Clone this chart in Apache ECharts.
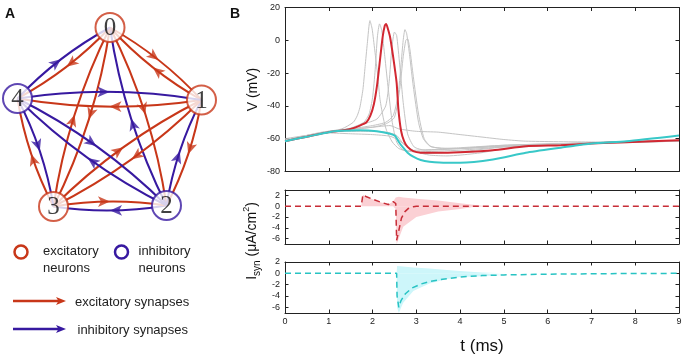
<!DOCTYPE html>
<html><head><meta charset="utf-8">
<script src="https://cdn.jsdelivr.net/npm/echarts@6/dist/echarts.min.js"></script>
<style>html,body{margin:0;padding:0;background:#fff}#c{width:686px;height:356px}</style>
</head><body><div id="c"></div>
<script>
// ---------- Panel A: network ----------
const nodeNames = ['0', '1', '2', '3', '4'];
const nodeX = [110, 201.5, 166.5, 53.5, 17.5];
const nodeY = [27.5, 100, 205.5, 206.5, 98.5];
const nodeType = ['E', 'E', 'I', 'E', 'I'];
const edgePairs = [[0,1],[0,2],[0,3],[0,4],[1,2],[1,3],[1,4],[2,3],[2,4],[3,4]];

// ---------- Panel B: membrane potential V (mV) ----------
const tickV = [-80,-60,-40,-20,0,20];
const tickI = [-6,-4,-2,0,2];

const redT = [0,0.5,1,1.3,1.5,1.71,1.86,1.95,2.03,2.1,2.17,2.23,2.28,2.31,2.34,2.4,2.47,2.55,2.59,2.65,2.72,2.8,2.93,3.1,3.5,4,4.75,5.5,6.3,7,7.8,9];
const redV = [-61.5,-58.8,-56,-55,-54,-52,-50,-46,-39,-28,-12,2,9,10,8,2,-10,-26,-42,-55,-61.5,-65,-67.6,-68.5,-68.6,-68.2,-67,-64.6,-64,-63,-62.1,-61];

const cyanT = [0,0.5,1,1.3,1.7,2.1,2.4,2.52,2.6,2.7,2.8,2.93,3.1,3.3,3.7,4,4.75,5.5,6.3,7,7.8,9];
const cyanV = [-61.5,-58.8,-56,-55.2,-54.8,-55.4,-57,-58.3,-62,-65.5,-68.5,-71,-73,-74,-74.7,-74.7,-72.7,-68.6,-65.5,-62.9,-61.5,-58];

const gray1T = [0,1,1.3,1.56,1.65,1.71,1.78,1.83,1.88,1.94,1.99,2.05,2.12,2.17,2.25,2.32,2.45,2.6,2.8,3,4,5,6,7,9];
const gray1V = [-60.5,-55.5,-54,-50,-46,-41,-30,-16,-2,12,7,-6,-22,-36,-48,-55,-62,-66,-67.5,-67,-66,-64.5,-63.5,-62.5,-61.5];
const gray2T = [0,1,1.5,1.8,1.92,2.0,2.06,2.11,2.16,2.21,2.28,2.36,2.45,2.55,2.7,3,4,5,7,9];
const gray2V = [-61.5,-56,-53.5,-50,-45,-35,-18,2,10,6,-10,-30,-50,-62,-67,-68,-67,-65,-63,-61.5];
const gray3T = [0,1,1.5,1.8,2.1,2.3,2.38,2.44,2.5,2.55,2.62,2.7,2.8,2.95,3.2,4,5,7,9];
const gray3V = [-61.5,-56,-54,-51,-48,-40,-25,-5,5,3,-15,-38,-57,-65,-67,-66,-64,-62.5,-61];
const gray4T = [0,1,1.5,2,2.3,2.47,2.58,2.65,2.7,2.74,2.78,2.85,2.93,3.05,3.16,3.31,3.6,4,5,7,9];
const gray4V = [-61.5,-56,-54,-52,-50,-46,-34,-15,0,6.5,4,-10,-28,-50,-60,-64.5,-66,-65.5,-64,-62.5,-61];
const gray5T = [0,1,1.5,2,2.3,2.5,2.62,2.7,2.76,2.8,2.85,2.93,3.05,3.18,3.35,4,5,7,9];
const gray5V = [-61.5,-56,-54.5,-53,-51,-47,-30,-10,0,1,-5,-22,-45,-60,-65,-66,-64.5,-62.5,-61];
const gray6T = [0,1,2,2.4,2.6,3,3.5,4,4.5,5,5.5,7,9];
const gray6V = [-61.5,-55.5,-53,-52,-54,-55.5,-56,-57.5,-59,-60.5,-61.5,-62,-61.5];
const gray7T = [0,1,1.5,2,2.4,2.6,2.8,3,3.3,3.7,4,4.5,5,6,7,9];
const gray7V = [-60,-56.5,-57,-57.5,-58.5,-61,-65,-68,-70,-70.5,-70,-68.5,-66,-64,-62.5,-61];
const gray8T = [0,1,1.8,2.3,2.55,2.7,2.9,3.2,4,5,6,9];
const gray8V = [-61.5,-55.5,-55.5,-56,-58,-63,-67,-69,-68,-65,-63.5,-61.5];

// ---------- Synaptic currents (uA/cm^2) ----------
const excT = [0,1.74,1.78,1.85,2,2.2,2.36,2.47,2.53,2.55,2.6,2.66,2.74,2.82,2.93,3,9];
const excI = [0,0,2.1,1.8,1.3,0.7,0.3,0.85,0.5,-6.3,-4.5,-2.2,-1.0,-0.4,-0.1,0,0];
const excBandT = [1.74,1.78,1.85,2,2.2,2.36,2.47,2.53,2.55,2.6,2.7,3,3.5,4,4.3,4.6];
const excBandLo = [0,0,0,0,0,0,0,-0.5,-7,-6,-3.8,-2,-1,-0.5,-0.15,0];
const excBandHi = [0,2.1,1.8,1.3,0.7,0.3,0.85,1.6,1.8,1.75,1.6,1.4,1.05,0.55,0.25,0];

const inhT = [0,2.55,2.56,2.6,2.65,2.75,2.9,3.1,3.3,3.6,4,4.5,5,6,7,8,9];
const inhI = [0,0,-4,-6,-4.8,-3.6,-2.6,-1.9,-1.45,-1.05,-0.65,-0.4,-0.28,-0.15,-0.08,-0.03,0];
const inhBandT = [2.55,2.56,2.6,2.7,2.93,3.3,3.7,4,4.5,5];
const inhBandLo = [0,-6,-7,-5.2,-3.1,-1.8,-1.0,-0.65,-0.5,-0.3];
const inhBandHi = [0,1.3,1.3,1.2,1.05,0.85,0.6,0.4,0.15,0];

// ---------- styles ----------
const RED_N = 'rgb(200,55,25)';
const BLUE_N = 'rgb(55,25,160)';
const LINE_RED = 'rgb(210,40,50)';
const LINE_CYAN = 'rgb(56,200,200)';
const GRAY = '#c4c4c4';
const FONT = 'Liberation Sans, Arial, sans-serif';

const pairs = (t, v) => t.map((x, i) => [x, v[i]]);
const CURV = 0.08;

// edges
const edgeData = [], arrowData = [];
edgePairs.forEach(([a, b]) => {
  [[a, b], [b, a]].forEach(([s, d]) => {
    const col = nodeType[s] === 'E' ? RED_N : BLUE_N;
    const x1 = nodeX[s], y1 = nodeY[s], x2 = nodeX[d], y2 = nodeY[d];
    edgeData.push({coords: [[x1, y1], [x2, y2]], lineStyle: {color: col}});
    const dx = x2 - x1, dy = y2 - y1;
    const mx = (x1 + x2) / 2 + 0.5 * CURV * dy;
    const my = (y1 + y2) / 2 - 0.5 * CURV * dx;
    const rot = Math.atan2(-dx, -dy) * 180 / Math.PI;
    arrowData.push({value: [mx, my], symbolRotate: rot, itemStyle: {color: col}});
  });
});
const nodeData = nodeNames.map((n, i) => ({
  name: n, value: [nodeX[i], nodeY[i]],
  itemStyle: {color: '#fff', borderColor: nodeType[i] === 'E' ? RED_N : BLUE_N, borderWidth: 2}
}));

function xAx(grid, pos, labels, name) {
  return {
    type: 'value', gridIndex: grid, position: pos, min: 0, max: 9, interval: 1,
    axisLine: {show: true, onZero: false, lineStyle: {color: '#222', width: 1}},
    axisTick: {show: true, inside: true, length: 3.5, lineStyle: {color: '#222'}},
    axisLabel: {show: labels, fontSize: 9, color: '#222', fontFamily: FONT, margin: 4},
    splitLine: {show: false},
    name: name || '', nameLocation: 'middle', nameGap: 25,
    nameTextStyle: {fontSize: 17, color: '#111', fontFamily: FONT}
  };
}
function yAx(grid, pos, min, max, ticks, labels, name) {
  return {
    type: 'value', gridIndex: grid, position: pos, min: min, max: max,
    axisLine: {show: true, onZero: false, lineStyle: {color: '#222', width: 1}},
    axisTick: {show: true, inside: true, length: 3.5, customValues: ticks, lineStyle: {color: '#222'}},
    axisLabel: {show: labels, customValues: ticks, fontSize: 9, color: '#222', fontFamily: FONT, margin: 5},
    splitLine: {show: false},
    name: name || '', nameLocation: 'middle', nameGap: 25, nameMoveOverlap: false,
    nameTextStyle: {fontSize: 14, color: '#111', fontFamily: FONT}
  };
}

const grayList = [[gray1T,gray1V],[gray2T,gray2V],[gray3T,gray3V],[gray4T,gray4V],[gray5T,gray5V],[gray6T,gray6V],[gray7T,gray7V],[gray8T,gray8V]];
const series = [];
series.push({type: 'lines', coordinateSystem: 'cartesian2d', xAxisIndex: 0, yAxisIndex: 0, z: 1,
  lineStyle: {width: 2, curveness: CURV, opacity: 1}, data: edgeData, silent: true});
series.push({type: 'scatter', xAxisIndex: 0, yAxisIndex: 0, z: 2, symbol: 'arrow', symbolSize: [8, 12],
  data: arrowData, silent: true});
series.push({type: 'scatter', xAxisIndex: 0, yAxisIndex: 0, z: 3, symbol: 'circle', symbolSize: 29,
  data: nodeData, silent: true,
  label: {show: true, position: 'inside', formatter: '{b}', fontFamily: 'Liberation Serif, DejaVu Serif, serif',
    fontSize: 25, color: '#111', offset: [0, 1]}});

grayList.forEach(([t, v]) => series.push({type: 'line', xAxisIndex: 1, yAxisIndex: 1, data: pairs(t, v),
  showSymbol: false, smooth: 0.2, lineStyle: {color: GRAY, width: 1}, z: 2, silent: true}));
series.push({type: 'line', xAxisIndex: 1, yAxisIndex: 1, data: pairs(redT, redV), showSymbol: false, smooth: 0.2,
  lineStyle: {color: LINE_RED, width: 2}, z: 4});
series.push({type: 'line', xAxisIndex: 1, yAxisIndex: 1, data: pairs(cyanT, cyanV), showSymbol: false, smooth: 0.2,
  lineStyle: {color: LINE_CYAN, width: 2}, z: 5});

// shaded spread: filled from 0 up to the upper bound and from 0 down to the lower bound
function band(xi, yi, t, lo, hi, col) {
  [lo, hi].forEach(arr => series.push({type: 'line', xAxisIndex: xi, yAxisIndex: yi, data: pairs(t, arr),
    showSymbol: false, lineStyle: {width: 0, opacity: 0}, areaStyle: {color: col, opacity: 1, origin: 0},
    z: 1, silent: true}));
}
band(3, 3, excBandT, excBandLo, excBandHi, 'rgb(251,208,212)');
band(5, 5, inhBandT, inhBandLo, inhBandHi, 'rgb(205,246,250)');
series.push({type: 'line', xAxisIndex: 3, yAxisIndex: 3, data: pairs(excT, excI), showSymbol: false,
  lineStyle: {color: 'rgb(200,45,55)', width: 1.5, type: [6, 4]}, z: 4});
series.push({type: 'line', xAxisIndex: 5, yAxisIndex: 5, data: pairs(inhT, inhI), showSymbol: false,
  lineStyle: {color: 'rgb(40,195,195)', width: 1.5, type: [6, 4]}, z: 4});

const option = {
  animation: false,
  backgroundColor: '#fff',
  grid: [
    {left: 0, top: 0, width: 240, height: 240},
    {left: 285, top: 7.5, width: 394, height: 164},
    {left: 285, top: 190, width: 394, height: 54},
    {left: 285, top: 262, width: 394, height: 56}
  ],
  xAxis: [
    {type: 'value', gridIndex: 0, min: 0, max: 240, show: false},
    xAx(1, 'bottom', false), xAx(1, 'top', false),
    xAx(2, 'bottom', false), xAx(2, 'top', false),
    xAx(3, 'bottom', true, 't (ms)'), xAx(3, 'top', false)
  ],
  yAxis: [
    {type: 'value', gridIndex: 0, min: 0, max: 240, inverse: true, show: false},
    yAx(1, 'left', -80, 20, tickV, true, 'V (mV)'), yAx(1, 'right', -80, 20, tickV, false),
    yAx(2, 'left', -7, 3, tickI, true), yAx(2, 'right', -7, 3, tickI, false),
    yAx(3, 'left', -7, 2, tickI, true), yAx(3, 'right', -7, 2, tickI, false)
  ],
  graphic: [
    {type: 'text', x: 5, y: 7, style: {text: 'A', fontSize: 14, fontWeight: 'bold', fill: '#111', fontFamily: FONT}},
    {type: 'text', x: 230, y: 7, style: {text: 'B', fontSize: 14, fontWeight: 'bold', fill: '#111', fontFamily: FONT}},
    {type: 'circle', shape: {cx: 21, cy: 252, r: 6.5}, style: {fill: '#fff', stroke: RED_N, lineWidth: 2.5}},
    {type: 'text', x: 43, y: 243.5, style: {text: 'excitatory\nneurons', fontSize: 13, lineHeight: 16.5, fill: '#222', fontFamily: FONT, verticalAlign: 'top'}},
    {type: 'circle', shape: {cx: 121.5, cy: 252, r: 6.5}, style: {fill: '#fff', stroke: BLUE_N, lineWidth: 2.5}},
    {type: 'text', x: 138.5, y: 243.5, style: {text: 'inhibitory\nneurons', fontSize: 13, lineHeight: 16.5, fill: '#222', fontFamily: FONT, verticalAlign: 'top'}},
    {type: 'line', shape: {x1: 13, y1: 301, x2: 59, y2: 301}, style: {stroke: RED_N, lineWidth: 2.5}},
    {type: 'polygon', shape: {points: [[66, 301], [56, 297], [58.5, 301], [56, 305]]}, style: {fill: RED_N}},
    {type: 'text', x: 75, y: 302, style: {text: 'excitatory synapses', fontSize: 13, fill: '#222', fontFamily: FONT, verticalAlign: 'middle'}},
    {type: 'line', shape: {x1: 13, y1: 329, x2: 59, y2: 329}, style: {stroke: BLUE_N, lineWidth: 2.5}},
    {type: 'polygon', shape: {points: [[66, 329], [56, 325], [58.5, 329], [56, 333]]}, style: {fill: BLUE_N}},
    {type: 'text', x: 77.5, y: 330, style: {text: 'inhibitory synapses', fontSize: 13, fill: '#222', fontFamily: FONT, verticalAlign: 'middle'}},
    {type: 'text', x: 252, y: 241, rotation: Math.PI / 2,
      style: {text: '{m|I}{s|syn}{m| (μA/cm}{p|2}{m|)}', align: 'center', verticalAlign: 'middle', fill: '#111',
        rich: {
          m: {fontSize: 14, lineHeight: 20, fontFamily: FONT, fill: '#111'},
          s: {fontSize: 10, lineHeight: 10, verticalAlign: 'bottom', fontFamily: FONT, fill: '#111'},
          p: {fontSize: 9, lineHeight: 9, verticalAlign: 'top', fontFamily: FONT, fill: '#111'}
        }}}
  ],
  series: series
};
const chart = echarts.init(document.getElementById('c'), null, {renderer: 'canvas'});
chart.setOption(option);
</script></body></html>
